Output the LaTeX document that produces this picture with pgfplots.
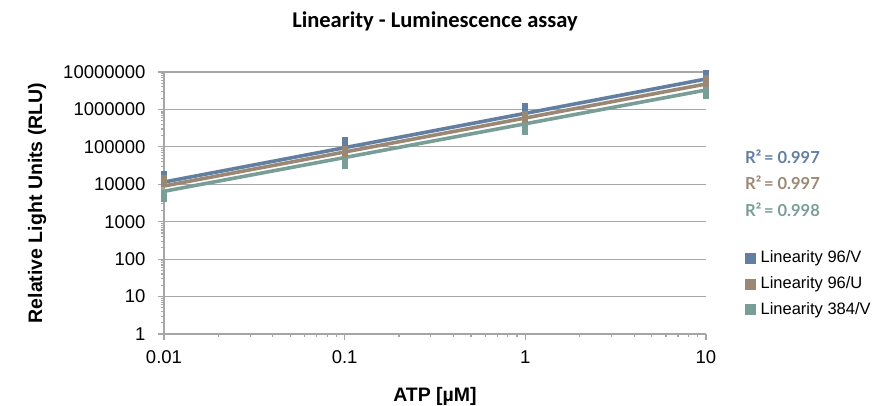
\documentclass[border=0pt]{standalone}
\usepackage{pgfplots}
\pgfplotsset{compat=1.18}
\usepackage{fontspec}
\setmainfont{Liberation Sans}
\newfontfamily\latofont{Lato}
\newfontfamily\carlitofont{Carlito}
\definecolor{blueS}{HTML}{627FA1}
\definecolor{brownS}{HTML}{9B8874}
\definecolor{tealS}{HTML}{799E98}
\definecolor{gridc}{HTML}{A6A6A6}
\begin{document}
\begin{tikzpicture}
\begin{axis}[
  scale only axis,
  width=542bp, height=262bp,
  xmode=log, ymode=log,
  xmin=0.01, xmax=10, ymin=1, ymax=1e7,
  xtick={0.01,0.1,1,10},
  xticklabels={0.01,0.1,1,10},
  ytick={1,10,100,1000,10000,100000,1000000,10000000},
  yticklabels={1,10,100,1000,10000,100000,1000000,10000000},
  minor xtick={}, minor ytick={},
  axis x line=bottom, axis y line=left,
  axis line style={-, gridc, line width=1.2bp},
  tick align=outside,
  major tick length=6bp,
  tick style={gridc, line width=1.2bp},
  ymajorgrids,
  grid style={gridc, line width=1.2bp},
  ticklabel style={font=\fontsize{18.5bp}{20bp}\selectfont, text=black},
  yticklabel style={xshift=-9bp},
  xticklabel style={yshift=-7bp},
  /pgf/number format/assume math mode=true,
  xlabel={\textbf{ATP [µM]}},
  ylabel={\textbf{Relative Light Units (RLU)}},
  label style={font=\fontsize{19.5bp}{22bp}\selectfont},
  xlabel style={at={(axis description cs:0.5,-0.24)}, anchor=center},
  ylabel style={at={(axis description cs:-0.234,0.5)}, anchor=center},
  title={\carlitofont\bfseries Linearity - Luminescence assay},
  title style={font=\fontsize{22.5bp}{24bp}\selectfont, at={(axis description cs:0.5,1.19)}, anchor=center, yshift=-5bp},
  clip=false,
  legend style={draw=none, fill=none, at={(axis description cs:1.072,0.325)}, anchor=north west,
    font=\fontsize{16.5bp}{18bp}\selectfont, row sep=8.5bp, column sep=3bp, inner sep=0pt},
  legend cell align=left,
]
% data markers
\addplot[only marks, mark=|, mark size=6bp, mark options={line width=6bp, draw=blueS},
  legend image code/.code={\fill[blueS] (0bp,-5bp) rectangle (10bp,5bp);}]
  coordinates {(0.01,15200) (0.1,124000) (1,1000000) (10,7800000)};
\addlegendentry{Linearity 96/V}
\addplot[only marks, mark=|, mark size=6bp, mark options={line width=6bp, draw=brownS},
  legend image code/.code={\fill[brownS] (0bp,-5bp) rectangle (10bp,5bp);}]
  coordinates {(0.01,12600) (0.1,75000) (1,630000) (10,5700000)};
\addlegendentry{Linearity 96/U}
\addplot[only marks, mark=|, mark size=6bp, mark options={line width=6bp, draw=tealS},
  legend image code/.code={\fill[tealS] (0bp,-5bp) rectangle (10bp,5bp);}]
  coordinates {(0.01,4720) (0.1,38200) (1,291000) (10,2750000)};
\addlegendentry{Linearity 384/V}
% trend lines
\addplot[blueS, line width=3.6bp, forget plot] coordinates {(0.01,11500) (10,6500000)};
\addplot[brownS, line width=3.6bp, forget plot] coordinates {(0.01,9000) (10,4780000)};
\addplot[tealS, line width=3.6bp, forget plot] coordinates {(0.01,6500) (10,3300000)};
% R^2 labels
\node[anchor=west, inner sep=0pt, text=blueS, font=\latofont\bfseries\fontsize{16.5bp}{18bp}\selectfont] at (axis description cs:1.072,0.676) {R²\,= 0.997};
\node[anchor=west, inner sep=0pt, text=brownS, font=\latofont\bfseries\fontsize{16.5bp}{18bp}\selectfont] at (axis description cs:1.072,0.576) {R²\,= 0.997};
\node[anchor=west, inner sep=0pt, text=tealS, font=\latofont\bfseries\fontsize{16.5bp}{18bp}\selectfont] at (axis description cs:1.072,0.473) {R²\,= 0.998};
\end{axis}
\pgfresetboundingbox
\path[use as bounding box] ([shift={(-164bp,-72bp)}]current axis.south west) rectangle ([shift={(172bp,72bp)}]current axis.north east);
\end{tikzpicture}
\end{document}
